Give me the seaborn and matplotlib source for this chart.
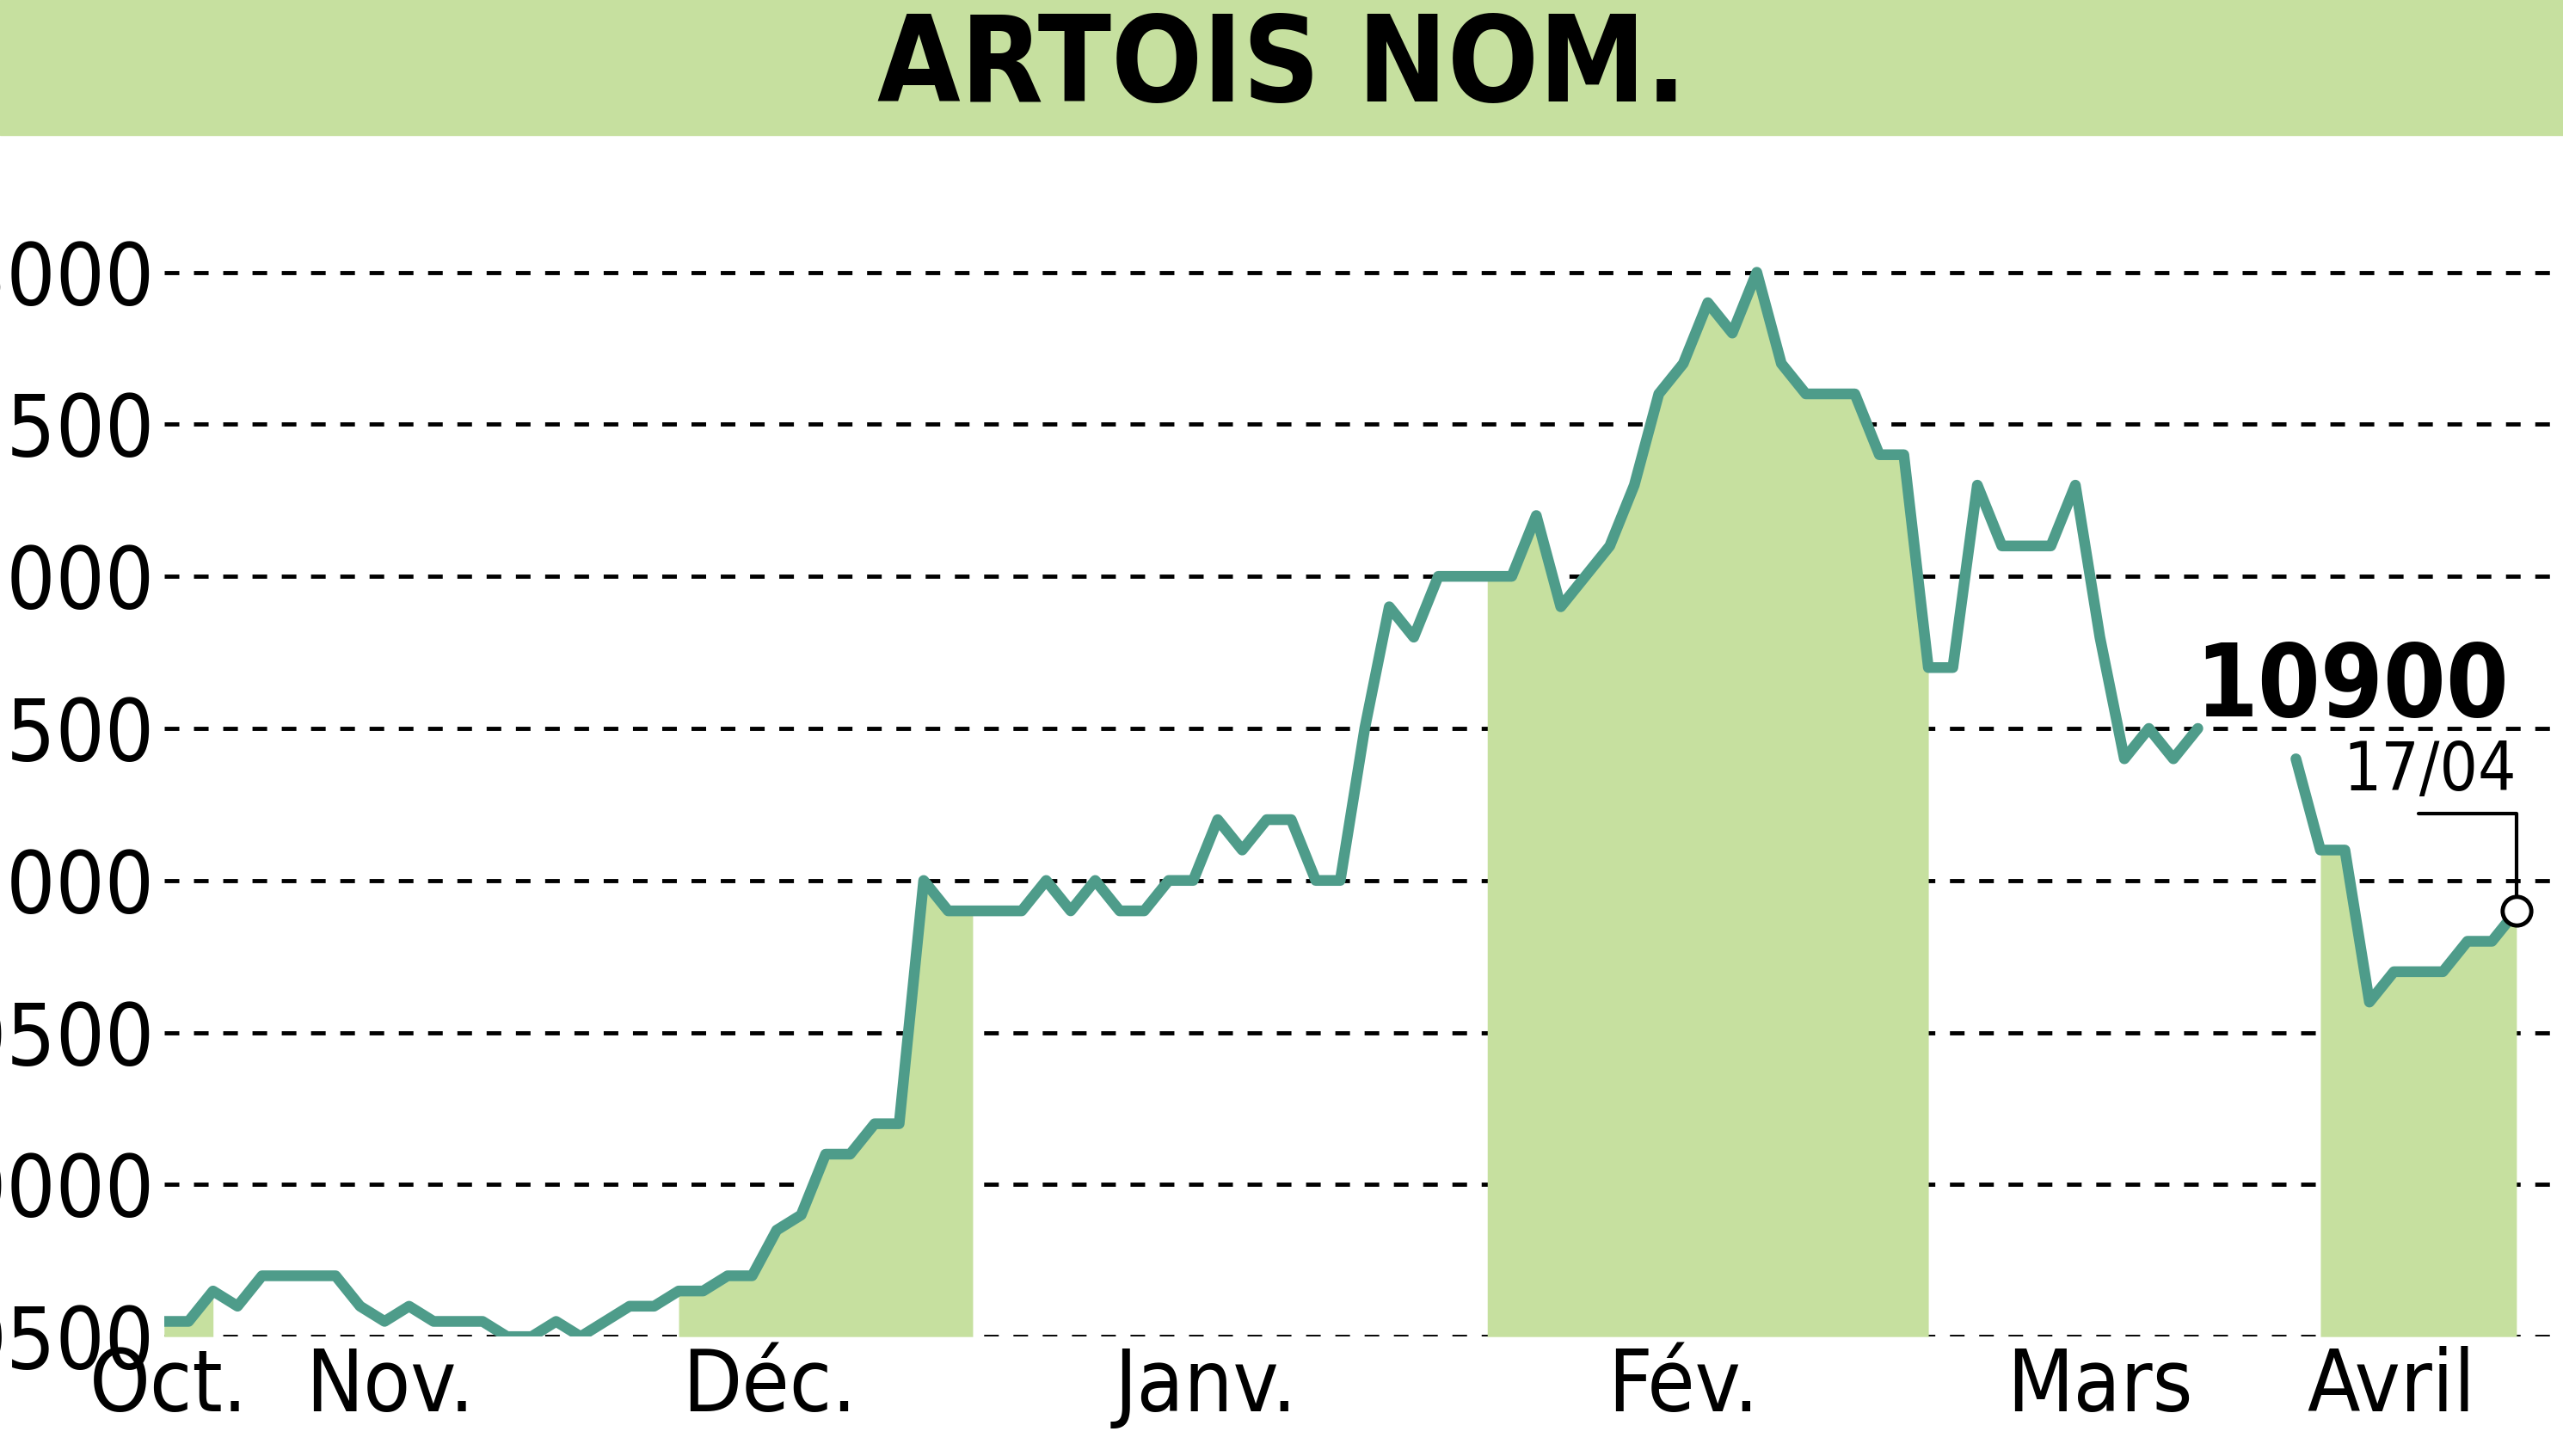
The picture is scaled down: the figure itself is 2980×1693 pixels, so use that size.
import numpy as np
import pandas as pd
import seaborn as sns
import matplotlib.pyplot as plt

sns.set_style('white')
plt.rcParams['font.family'] = ['DejaVu Sans Condensed', 'Liberation Sans Narrow', 'DejaVu Sans']
plt.rcParams['font.stretch'] = 'condensed'
plt.rcParams['text.color'] = 'black'

title = "ARTOIS NOM."
prices = [9550, 9550, 9650, 9600, 9700, 9700, 9700, 9700, 9600, 9550,
          9600, 9550, 9550, 9550, 9500, 9500, 9550, 9500, 9550, 9600,
          9600, 9650, 9650, 9700, 9700, 9850, 9900, 10100, 10100, 10200,
          10200, 11000, 10900, 10900, 10900, 10900, 11000, 10900, 11000, 10900,
          10900, 11000, 11000, 11200, 11100, 11200, 11200, 11000, 11000, 11500,
          11900, 11800, 12000, 12000, 12000, 12000, 12200, 11900, 12000, 12100,
          12300, 12600, 12700, 12900, 12800, 13000, 12700, 12600, 12600, 12600,
          12400, 12400, 11700, 11700, 12300, 12100, 12100, 12100, 12300, 11800,
          11400, 11500, 11400, 11500, np.nan, np.nan, np.nan,
          11400, 11100, 11100, 10600, 10700, 10700, 10700, 10800, 10800, 10900]
shaded = [(0, 2), (21, 33), (54, 72), (88, 96)]
month_pos = [0.2, 9.2, 24.7, 42.5, 62, 79, 90.9]
month_labels = ["Oct.", "Nov.", "Déc.", "Janv.", "Fév.", "Mars", "Avril"]
yticks = [9500, 10000, 10500, 11000, 11500, 12000, 12500, 13000]
last_label = "10900"
last_date = "17/04"

df = pd.DataFrame({'day': np.arange(len(prices)), 'price': prices})
df['segment'] = df.price.isna().cumsum()
df = df.dropna()
green = '#c6e09f'
teal = '#4e9c8a'

fig = plt.figure(figsize=(29.8, 16.93), dpi=100)
ax = fig.add_axes([0.064, 0.082, 0.936, 0.825])

for a, b in shaded:
    seg = df[(df.day >= a) & (df.day <= b)]
    ax.fill_between(seg.day, 9500, seg.price, color=green, lw=0, zorder=1)

for y in yticks:
    ax.axhline(y, color='black', ls=(0, (3.5, 3.5)), lw=3.5, zorder=0)

for _, seg in df.groupby('segment'):
    sns.lineplot(data=seg, x='day', y='price', ax=ax, color=teal, lw=9, zorder=3)

ax.set_xlim(0, 97.9)
ax.set_ylim(9500, 13450)
ax.set_xticks(month_pos)
ax.set_xticklabels(month_labels)
ax.set_yticks(yticks)
ax.set_yticklabels([str(v) for v in yticks])
ax.tick_params(labelsize=72, length=0, pad=8, labelcolor='black')
ax.set_xlabel('')
ax.set_ylabel('')
for s in ax.spines.values():
    s.set_visible(False)

# last value annotation
ax.plot([92, 96, 96], [11220, 11220, 10950], color='black', lw=3, zorder=4)
ax.plot(96, 10900, 'o', ms=24, mfc='white', mec='black', mew=3.5, zorder=5)
ax.text(95.7, 11470, last_label, fontsize=84, fontweight='bold', ha='right', va='bottom')
ax.text(96, 11250, last_date, fontsize=56, ha='right', va='bottom')

# title band
fig.patches.append(plt.Rectangle((0, 0.907), 1, 0.093, transform=fig.transFigure,
                                 color=green, zorder=0))
fig.text(0.5, 0.953, title, fontsize=100, fontweight='bold', ha='center', va='center')

fig.savefig('out.png', dpi=100)
